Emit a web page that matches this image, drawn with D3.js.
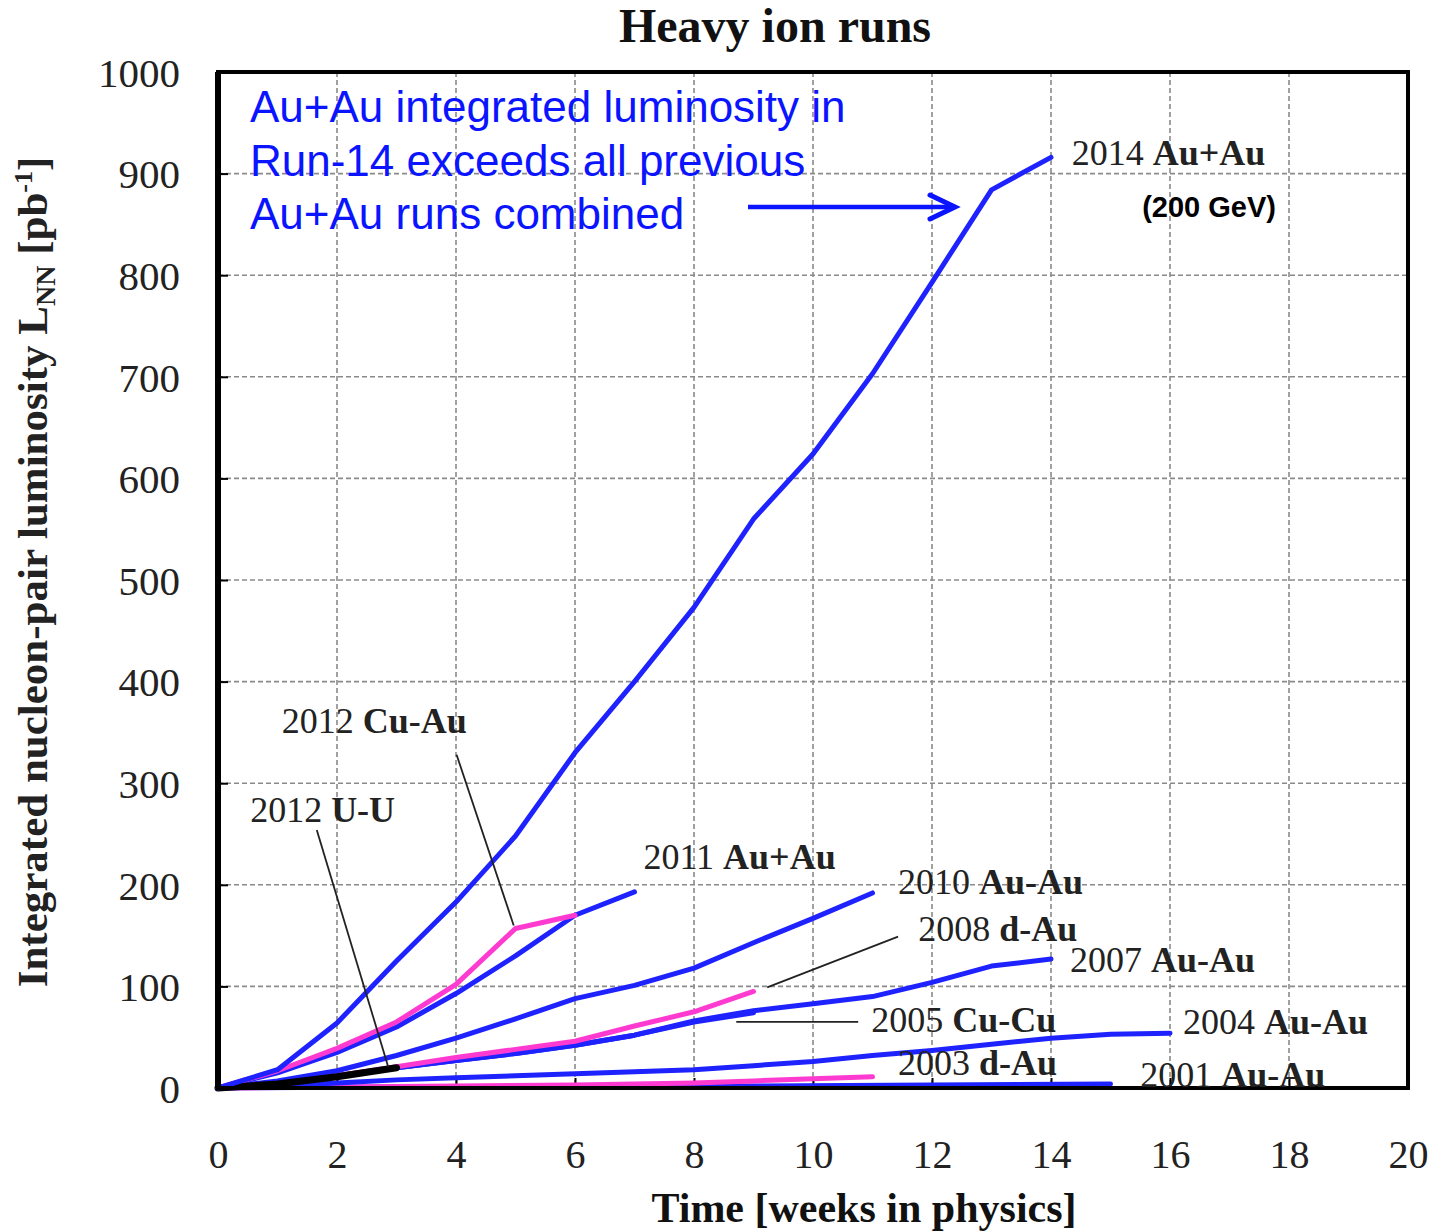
<!DOCTYPE html>
<html><head><meta charset="utf-8">
<script src="https://cdn.jsdelivr.net/npm/d3@7"></script>
<style>body{margin:0;background:#fff}svg{display:block}</style>
</head><body>
<svg id="c" width="1445" height="1231"></svg>
<script>
// ---- data (weeks, integrated L_NN in pb^-1) ----
const xTicks = [0,2,4,6,8,10,12,14,16,18,20];
const yTicks = [0,100,200,300,400,500,600,700,800,900,1000];

const run2001AuAu = [[0,0],[3,1],[6,1.5],[9,2],[12,3],[15,4]];
const run2003dAu  = [[0,0],[2,1],[4,2],[6,3],[7,4],[8,5],[9,7],[10,9],[11,11]];
const run2004AuAu = [[0,0],[1,2],[2,5],[3,8],[4,10],[5,12],[6,14],[7,16],[8,18],[9,22],[10,26],[11,32],[12,37],[13,43],[14,49],[15,53],[16,54]];
const run2005CuCu = [[0,0],[1,4],[2,12],[3,20],[4,27],[5,34],[6,42],[7,52],[8,65],[9,74]];
const run2007AuAu = [[0,0],[1,4],[2,12],[3,20],[4,27],[5,34],[6,42],[7,52],[8,66],[9,76],[10,83],[11,90],[12,104],[13,120],[14,127]];
const run2008dAu  = [[0,0],[1,5],[2,12],[3,21],[4,30],[5,38],[6,46],[7,61],[8,75],[9,95]];
const run2010AuAu = [[0,0],[1,7],[2,17],[3,32],[4,49],[5,68],[6,88],[7,101],[8,118],[9,143],[10,167],[11,192]];
const run2011AuAu = [[0,0],[1,15],[2,35],[3,60],[4,93],[5,130],[6,170],[7,193]];
const run2012CuAu = [[0,0],[1,17],[2,39],[3,65],[4,102],[5,157],[6,170]];
const run2012UU   = [[0,0],[1,4],[2,11],[3,20]];
const run2014AuAu = [[0,0],[1,18],[2,64],[3,125],[4,183],[5,248],[6,330],[7,400],[8,473],[9,560],[10,624],[11,703],[12,793],[13,884],[14,916]];

const seriesNames  = ["2001","2003","2004","2005","2007","2008","2010","2011","2012CuAu","2012UU","2014"];
const seriesData   = [run2001AuAu,run2003dAu,run2004AuAu,run2005CuCu,run2007AuAu,run2008dAu,run2010AuAu,run2011AuAu,run2012CuAu,run2012UU,run2014AuAu];
const seriesColors = ["#1e22ff","#ff3ad0","#1e22ff","#1e22ff","#1e22ff","#ff3ad0","#1e22ff","#1e22ff","#ff3ad0","#000000","#1e22ff"];
const seriesWidths = [5,5,5,5,5,5,5,5,5,7,5];

// labels: [year, species, week, value]
const labels = [
  ["2014 ","Au+Au",14.35,908],
  ["2012 ","Cu-Au",1.07,349],
  ["2012 ","U-U",0.54,262],
  ["2011 ","Au+Au",7.15,216],
  ["2010 ","Au-Au",11.43,191],
  ["2008 ","d-Au",11.77,145],
  ["2007 ","Au-Au",14.32,114],
  ["2005 ","Cu-Cu",10.98,55],
  ["2004 ","Au-Au",16.22,53],
  ["2003 ","d-Au",11.43,13],
  ["2001 ","Au-Au",15.5,1]
];
// leader lines: [w1,v1,w2,v2]
const leaders = [
  [4.01,328,4.97,160],
  [1.66,254,2.86,21],
  [11.43,149,9.23,99],
  [8.71,65,10.76,65]
];
const noteLines = ["Au+Au integrated luminosity in","Run-14 exceeds all previous","Au+Au runs combined"];

// ---- drawing ----
const svg = d3.select("#c");
const L=218, R=1408, T=72, B=1088;
const x = d3.scaleLinear().domain([0,20]).range([L,R]);
const y = d3.scaleLinear().domain([0,1000]).range([B,T]);
const serif = "'Liberation Serif','Times New Roman',serif";
const sans = "'Liberation Sans',Arial,sans-serif";

// grid
svg.append("g").selectAll("line").data(xTicks.slice(1,-1)).join("line")
  .attr("x1",d=>x(d)).attr("x2",d=>x(d)).attr("y1",T).attr("y2",B)
  .attr("stroke","#8a8a8a").attr("stroke-width",1.6).attr("stroke-dasharray","5,3");
svg.append("g").selectAll("line").data(yTicks.slice(1,-1)).join("line")
  .attr("y1",d=>y(d)).attr("y2",d=>y(d)).attr("x1",L).attr("x2",R)
  .attr("stroke","#8a8a8a").attr("stroke-width",1.6).attr("stroke-dasharray","5,3");

// axes (ticks inside)
const ax = svg.append("g").attr("transform",`translate(0,${B})`)
  .call(d3.axisBottom(x).tickValues(xTicks).tickSize(-10).tickPadding(52).tickFormat(d3.format("d")));
const ay = svg.append("g").attr("transform",`translate(${L},0)`)
  .call(d3.axisLeft(y).tickValues(yTicks).tickSize(-10).tickPadding(38).tickFormat(d3.format("d")));
[ax,ay].forEach(g=>{
  g.select(".domain").remove();
  g.selectAll(".tick line").attr("stroke","#000").attr("stroke-width",2);
  g.selectAll("text").attr("font-family",serif).attr("font-size",40).attr("fill","#222");
});
ay.selectAll("text").attr("dy","0.35em").attr("font-size",41);

// series
const line = d3.line().x(d=>x(d[0])).y(d=>y(d[1]));
svg.append("g").selectAll("path").data(seriesData).join("path")
  .attr("d",line).attr("fill","none")
  .attr("stroke",(d,i)=>seriesColors[i]).attr("stroke-width",(d,i)=>seriesWidths[i])
  .attr("stroke-linejoin","round").attr("stroke-linecap","round");

// frame
svg.append("rect").attr("x",L).attr("y",T).attr("width",R-L).attr("height",B-T)
  .attr("fill","none").attr("stroke","#000").attr("stroke-width",4);
svg.append("line").attr("x1",L).attr("x2",L).attr("y1",T).attr("y2",B).attr("stroke","#000").attr("stroke-width",6);

// leaders
svg.append("g").selectAll("line").data(leaders).join("line")
  .attr("x1",d=>x(d[0])).attr("y1",d=>y(d[1])).attr("x2",d=>x(d[2])).attr("y2",d=>y(d[3]))
  .attr("stroke","#222").attr("stroke-width",1.8);

// labels
const lt = svg.append("g").selectAll("text").data(labels).join("text")
  .attr("x",d=>x(d[2])).attr("y",d=>y(d[3]))
  .attr("font-family",serif).attr("font-size",36).attr("fill","#222");
lt.append("tspan").text(d=>d[0]);
lt.append("tspan").attr("font-weight","bold").text(d=>d[1]);

svg.append("text").attr("x",1276).attr("y",217).attr("text-anchor","end")
  .attr("font-family",sans).attr("font-weight","bold").attr("font-size",29).attr("fill","#000").text("(200 GeV)");

// blue note
svg.append("g").selectAll("text").data(noteLines).join("text")
  .attr("x",250).attr("y",(d,i)=>122+i*53.5)
  .attr("font-family",sans).attr("font-size",44).attr("fill","#0a14ff").text(d=>d);
// arrow
svg.append("line").attr("x1",748).attr("x2",954).attr("y1",207).attr("y2",207)
  .attr("stroke","#0a14ff").attr("stroke-width",4.5);
svg.append("path").attr("d","M930,195 L955,207 L930,219").attr("fill","none")
  .attr("stroke","#0a14ff").attr("stroke-width",5).attr("stroke-linecap","round").attr("stroke-linejoin","miter");

// titles
svg.append("text").attr("x",775).attr("y",42).attr("text-anchor","middle")
  .attr("font-family",serif).attr("font-weight","bold").attr("font-size",48).attr("fill","#111").text("Heavy ion runs");
svg.append("text").attr("x",864).attr("y",1222).attr("text-anchor","middle")
  .attr("font-family",serif).attr("font-weight","bold").attr("font-size",42).attr("fill","#111").text("Time [weeks in physics]");
const yt = svg.append("text").attr("transform","translate(47,572) rotate(-90)").attr("text-anchor","middle")
  .attr("font-family",serif).attr("font-weight","bold").attr("font-size",43).attr("fill","#222");
yt.append("tspan").text("Integrated nucleon-pair luminosity L");
yt.append("tspan").attr("font-size",28).attr("dy",8).text("NN");
yt.append("tspan").attr("dy",-8).text(" [pb");
yt.append("tspan").attr("font-size",26).attr("dy",-15).text("-1");
yt.append("tspan").attr("dy",15).text("]");
</script>
</body></html>
